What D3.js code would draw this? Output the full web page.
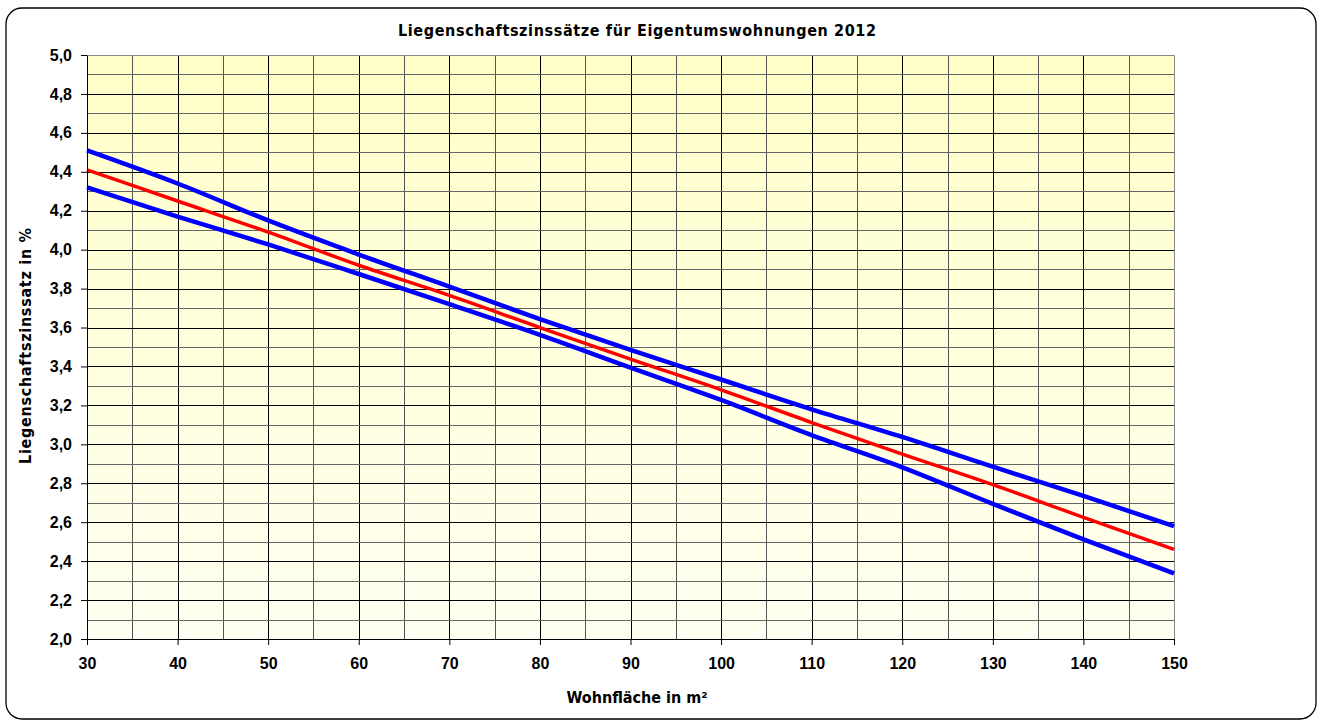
<!DOCTYPE html>
<head>
<meta charset="utf-8">
<title>Liegenschaftszinssätze</title>
<style>
body {
  margin: 0;
  font-family: "Liberation Sans", Arial, sans-serif;
  background: #fff;
}
.axis text {
  font-family: "Liberation Sans", Arial, sans-serif;
  font-size: 16px;
  font-weight: bold;
  fill: #000;
}
.axis path,
.axis line {
  stroke: #000;
}
.label {
  font-family: "DejaVu Sans Condensed", "DejaVu Sans", sans-serif;
  font-stretch: condensed;
  font-weight: bold;
  font-size: 16px;
}
</style>
<script src="https://d3js.org/d3.v7.min.js"></script>
</head>
<body>
<script>
// data
var flaeche = [30, 40, 50, 60, 70, 80, 90, 100, 110, 120, 130, 140, 150];
var mittel  = [4.41, 4.25, 4.09, 3.92, 3.765, 3.60, 3.438, 3.28, 3.112, 2.95, 2.793, 2.625, 2.46];
var oben    = [4.51, 4.34, 4.15, 3.975, 3.81, 3.643, 3.485, 3.333, 3.18, 3.038, 2.885, 2.735, 2.58];
var unten   = [4.32, 4.17, 4.027, 3.875, 3.72, 3.562, 3.394, 3.228, 3.047, 2.882, 2.694, 2.512, 2.337];
var xTicks = [30, 40, 50, 60, 70, 80, 90, 100, 110, 120, 130, 140, 150];
var yTicks = [2.0, 2.2, 2.4, 2.6, 2.8, 3.0, 3.2, 3.4, 3.6, 3.8, 4.0, 4.2, 4.4, 4.6, 4.8, 5.0];

var width = 1322,
    height = 725,
    margin = { top: 55, right: 148, bottom: 86, left: 87 },
    w = width - margin.left - margin.right,
    h = height - margin.top - margin.bottom;

var svg = d3.select("body").append("svg")
    .attr("width", width)
    .attr("height", height);

// outer frame
svg.append("rect")
    .attr("x", 6).attr("y", 8)
    .attr("width", 1310).attr("height", 711)
    .attr("rx", 16).attr("ry", 16)
    .attr("fill", "#fff")
    .attr("stroke", "#000")
    .attr("stroke-width", 1.3);

// background gradient of the plot area
var grad = svg.append("defs").append("linearGradient")
    .attr("id", "bg")
    .attr("x1", 0).attr("y1", 0).attr("x2", 0).attr("y2", 1);
grad.append("stop").attr("offset", "0%").attr("stop-color", "#ffffc8");
grad.append("stop").attr("offset", "100%").attr("stop-color", "#fffff2");

var g = svg.append("g")
    .attr("transform", "translate(" + margin.left + "," + margin.top + ")");

var x = d3.scaleLinear().domain([30, 150]).range([0, w]);
var y = d3.scaleLinear().domain([2, 5]).range([h, 0]);

g.append("rect")
    .attr("width", w).attr("height", h)
    .attr("fill", "url(#bg)");

// grid lines: every 5 m² and every 0,1 %
var xGrid = d3.range(35, 150, 5);
var yGrid = d3.range(21, 50).map(function(d) { return d / 10; });

g.selectAll(".vgrid")
    .data(xGrid)
    .enter().append("line")
    .attr("class", "vgrid")
    .attr("x1", function(d) { return Math.round(x(d)) + 0.5; })
    .attr("x2", function(d) { return Math.round(x(d)) + 0.5; })
    .attr("y1", 0).attr("y2", h)
    .attr("stroke", function(d) { return d % 10 === 0 ? "#000" : "#555"; });

g.selectAll(".hgrid")
    .data(yGrid)
    .enter().append("line")
    .attr("class", "hgrid")
    .attr("x1", 0).attr("x2", w)
    .attr("y1", function(d) { return Math.round(y(d)) + 0.5; })
    .attr("y2", function(d) { return Math.round(y(d)) + 0.5; })
    .attr("stroke", function(d) { return Math.round(d * 10) % 2 === 0 ? "#000" : "#666"; });

// top and right border
g.append("path")
    .attr("d", "M0.5,0.5H" + (w + 0.5) + "V" + h)
    .attr("fill", "none")
    .attr("stroke", "#888");

// lines
var line = d3.line()
    .x(function(d) { return x(d[0]); })
    .y(function(d) { return y(d[1]); })
    .curve(d3.curveMonotoneX);

function zip(vals) {
  return flaeche.map(function(f, i) { return [f, vals[i]]; });
}

g.append("path")
    .datum(zip(oben))
    .attr("d", line)
    .attr("fill", "none")
    .attr("stroke", "#0000ff")
    .attr("stroke-width", 4.5);

g.append("path")
    .datum(zip(unten))
    .attr("d", line)
    .attr("fill", "none")
    .attr("stroke", "#0000ff")
    .attr("stroke-width", 4.5);

g.append("path")
    .datum(zip(mittel))
    .attr("d", line)
    .attr("fill", "none")
    .attr("stroke", "#ff0000")
    .attr("stroke-width", 3.5);

// axes
var fmt = d3.format(".1f");
g.append("g")
    .attr("class", "axis")
    .attr("transform", "translate(0," + h + ")")
    .call(d3.axisBottom(x).tickValues(xTicks).tickSize(6).tickSizeOuter(0).tickPadding(13));

g.append("g")
    .attr("class", "axis")
    .call(d3.axisLeft(y).tickValues(yTicks).tickSize(6).tickSizeOuter(0).tickPadding(9)
      .tickFormat(function(d) { return fmt(d).replace(".", ","); }));

// titles (widths pinned to the reference)
svg.append("text")
    .attr("class", "label")
    .attr("x", 637).attr("y", 36)
    .attr("text-anchor", "middle")
    .attr("textLength", 478).attr("lengthAdjust", "spacing")
    .text("Liegenschaftszinssätze für Eigentumswohnungen 2012");

svg.append("text")
    .attr("class", "label")
    .attr("x", 637).attr("y", 703)
    .attr("text-anchor", "middle")
    .attr("textLength", 141).attr("lengthAdjust", "spacing")
    .text("Wohnfläche in m²");

svg.append("text")
    .attr("class", "label")
    .attr("transform", "translate(31,346) rotate(-90)")
    .attr("text-anchor", "middle")
    .attr("textLength", 236).attr("lengthAdjust", "spacing")
    .text("Liegenschaftszinssatz in %");
</script>
</body>
